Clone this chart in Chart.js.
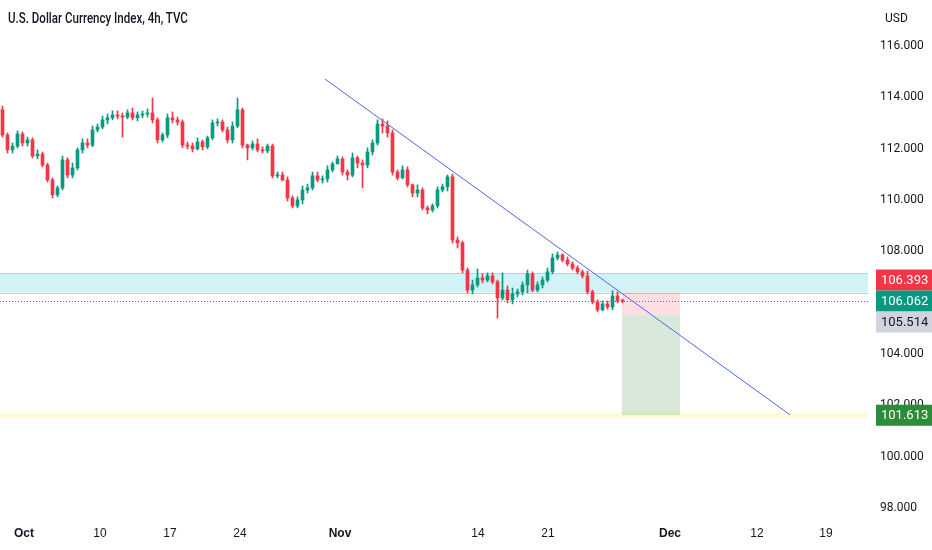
<!DOCTYPE html>
<html>
<head>
<meta charset="utf-8">
<script src="https://cdn.jsdelivr.net/npm/chart.js@4.4.1/dist/chart.umd.min.js"></script>
<style>
html,body{margin:0;padding:0;background:#fff;}
#wrap{position:relative;width:932px;height:550px;}
#title{position:absolute;left:8px;top:9px;font:500 15px Roboto,sans-serif;color:#131722;white-space:nowrap;transform-origin:0 0;}
#cur{position:absolute;left:885px;top:11px;font:12px Roboto,sans-serif;color:#131722;}
</style>
</head>
<body>
<div id="wrap">
<canvas id="chart" width="932" height="550"></canvas>
<div id="title">U.S. Dollar Currency Index, 4h, TVC</div>
<div id="cur">USD</div>
</div>
<script>
// candles (one candle per ~8h)
const opens = [
113.51,112.53,111.95,112.10,112.57,112.22,112.34,111.71,111.79,111.36,
110.78,110.20,110.47,111.56,110.97,111.25,111.95,112.22,112.14,112.73,
112.84,113.12,113.20,113.31,113.27,113.23,113.39,113.20,113.31,113.35,
113.39,113.12,112.34,112.53,113.20,113.12,113.04,112.14,112.10,111.99,
112.26,112.07,112.42,113.00,113.04,112.73,112.34,112.88,113.51,112.14,
112.03,112.18,111.95,111.91,112.10,110.94,110.97,110.78,110.08,109.77,
110.00,110.39,110.47,110.94,110.78,110.82,111.17,111.40,111.60,111.09,
110.97,111.64,111.44,111.36,111.87,112.22,112.96,112.88,112.61,111.09,
110.86,111.17,110.59,110.27,110.39,109.69,109.61,109.77,110.39,110.51,
110.90,108.44,108.33,107.27,106.49,106.69,106.96,106.88,107.04,106.81,
106.18,106.49,106.11,106.34,106.42,106.69,107.12,106.49,106.69,106.88,
107.20,107.74,107.86,107.66,107.51,107.35,107.20,107.04,106.42,106.03,
105.72,105.95,105.83,106.26,106.07
];
const highs = [
113.66,112.61,112.22,112.69,112.65,112.45,112.42,111.95,111.87,111.44,
110.86,110.55,111.71,111.64,111.44,112.03,112.38,112.38,112.88,112.96,
113.27,113.35,113.47,113.47,113.39,113.51,113.58,113.43,113.47,113.55,
113.97,113.20,112.61,113.35,113.43,113.23,113.12,112.26,112.22,112.42,
112.34,112.49,113.12,113.16,113.12,112.84,113.04,113.97,113.58,112.18,
112.30,112.38,112.07,112.18,112.18,111.09,111.09,110.90,110.16,110.12,
110.55,110.62,111.09,111.09,110.94,111.33,111.48,111.71,111.68,111.17,
111.83,111.71,111.56,112.03,112.34,113.12,113.16,113.08,112.73,111.17,
111.33,111.29,110.62,110.59,110.47,109.77,109.85,110.51,110.62,110.97,
111.01,108.56,108.40,107.35,106.88,107.31,107.12,107.16,107.16,106.88,
107.16,106.65,106.57,106.53,106.81,107.27,107.20,106.81,107.00,107.35,
107.90,107.97,107.90,107.78,107.59,107.43,107.27,107.23,106.49,106.11,
106.07,106.07,106.46,106.42,106.14
];
const lows = [
112.45,111.83,111.83,112.03,112.10,112.10,111.64,111.60,111.29,110.70,
110.08,110.12,110.39,110.86,110.86,111.17,111.83,112.03,112.07,112.65,
112.77,112.96,113.12,113.16,112.45,113.16,113.12,113.08,113.20,113.23,
113.00,112.22,112.26,112.42,113.00,112.92,112.03,111.99,111.87,111.95,
111.95,111.99,112.34,112.88,112.65,112.22,112.22,112.81,112.03,111.56,
111.95,111.87,111.83,111.83,110.86,110.86,110.74,109.96,109.69,109.69,
109.85,110.27,110.39,110.70,110.66,110.70,111.09,111.44,110.97,110.78,
110.90,111.25,110.47,111.25,111.75,112.14,112.61,112.45,110.97,110.78,
110.82,110.51,110.12,110.12,109.61,109.46,109.53,109.69,110.31,110.35,
108.33,108.13,107.16,106.38,106.34,106.61,106.77,106.81,106.73,105.40,
106.11,105.99,105.95,106.22,106.30,106.38,106.42,106.42,106.57,106.81,
107.12,107.66,107.59,107.43,107.27,107.12,106.96,106.34,105.95,105.64,
105.68,105.75,105.72,105.99,105.99
];
const closes = [
112.53,111.95,112.10,112.57,112.22,112.34,111.71,111.79,111.36,110.78,
110.20,110.47,111.56,110.97,111.25,111.95,112.22,112.14,112.73,112.84,
113.12,113.20,113.31,113.27,113.23,113.39,113.20,113.31,113.35,113.39,
113.12,112.34,112.53,113.20,113.12,113.04,112.14,112.10,111.99,112.26,
112.07,112.42,113.00,113.04,112.73,112.34,112.88,113.51,112.14,112.03,
112.18,111.95,111.91,112.10,110.94,110.97,110.78,110.08,109.77,110.00,
110.39,110.47,110.94,110.78,110.82,111.17,111.40,111.60,111.09,110.97,
111.64,111.44,111.36,111.87,112.22,112.96,112.88,112.61,111.09,110.86,
111.17,110.59,110.27,110.39,109.69,109.61,109.77,110.39,110.51,110.90,
108.44,108.33,107.27,106.49,106.69,106.96,106.88,107.04,106.81,106.18,
106.49,106.11,106.34,106.42,106.69,107.12,106.49,106.69,106.88,107.20,
107.74,107.86,107.66,107.51,107.35,107.20,107.04,106.42,106.03,105.72,
105.95,105.83,106.26,106.07,106.062
];

const xTickPos = [4.3, 19.5, 33.5, 47.5, 67.5, 95.1, 109.1, 133.5, 150.9, 164.7];
const xTickLabels = ["Oct", "10", "17", "24", "Nov", "14", "21", "Dec", "12", "19"];
const monthLabels = ["Oct", "Nov", "Dec"];
const yTicks = [98, 100, 102, 104, 106, 108, 110, 112, 114, 116];

// drawings
const zoneHigh = 107.14;
const zoneLow = 106.393;
const lastPrice = 106.062;
const stopPrice = 106.393;
const entryPrice = 105.514;
const targetPrice = 101.613;
const targetBand = [101.50, 101.72];
const positionX = [123.9, 135.5];
const trendX = [64.5, 157.5];
const trendY = [114.71, 101.63];

const upColor = "#089981";
const downColor = "#f23645";
const labelFont = "'Liberation Sans', Arial, sans-serif";

// squeeze the title to the narrow look of the original
const title = document.getElementById("title");
title.style.transform = "scaleX(" + (180 / title.offsetWidth) + ")";

const candleColor = ctx =>
    closes[ctx.dataIndex] >= opens[ctx.dataIndex] ? upColor : downColor;

const drawingsPlugin = {
    id: "drawings",
    beforeDatasetsDraw(chart) {
        const {ctx, chartArea: a, scales: {x, y}} = chart;
        ctx.save();

        // blue zone
        let t = y.getPixelForValue(zoneHigh);
        let b = y.getPixelForValue(zoneLow);
        ctx.fillStyle = "rgba(178,235,242,0.6)";
        ctx.fillRect(a.left, t, a.right - a.left, b - t);
        ctx.strokeStyle = "#a8d8f0";
        ctx.lineWidth = 1;
        ctx.beginPath();
        ctx.moveTo(a.left, Math.round(t) + 0.5);
        ctx.lineTo(a.right, Math.round(t) + 0.5);
        ctx.moveTo(a.left, Math.round(b) + 0.5);
        ctx.lineTo(a.right, Math.round(b) + 0.5);
        ctx.stroke();

        // yellow target band
        t = y.getPixelForValue(targetBand[1]);
        b = y.getPixelForValue(targetBand[0]);
        ctx.fillStyle = "rgba(255,238,88,0.22)";
        ctx.fillRect(a.left, t, a.right - a.left, b - t);

        // position box
        const x0 = x.getPixelForValue(positionX[0]);
        const x1 = x.getPixelForValue(positionX[1]);
        const yStop = y.getPixelForValue(stopPrice);
        const yEntry = y.getPixelForValue(entryPrice);
        const yTarget = y.getPixelForValue(targetPrice);
        ctx.fillStyle = "rgba(242,54,69,0.16)";
        ctx.fillRect(x0, yStop, x1 - x0, yEntry - yStop);
        ctx.fillStyle = "rgba(76,155,80,0.22)";
        ctx.fillRect(x0, yEntry, x1 - x0, yTarget - yEntry);

        // last price dotted line
        const yl = Math.round(y.getPixelForValue(lastPrice)) + 0.5;
        ctx.strokeStyle = upColor;
        ctx.setLineDash([1, 2]);
        ctx.beginPath();
        ctx.moveTo(a.left, yl);
        ctx.lineTo(a.right, yl);
        ctx.stroke();
        ctx.restore();
    },
    afterDraw(chart) {
        const {ctx, chartArea: a, scales: {y}} = chart;
        const yl = y.getPixelForValue(lastPrice);
        const h = 21;
        const boxes = [
            {v: stopPrice, c: yl - h, bg: downColor, fg: "#fff"},
            {v: lastPrice, c: yl, bg: upColor, fg: "#fff"},
            {v: entryPrice, c: yl + h, bg: "#d1d4dc", fg: "#131722"},
            {v: targetPrice, c: y.getPixelForValue(targetPrice), bg: "#2e8b3a", fg: "#fff"}
        ];
        ctx.save();
        ctx.font = "13px Roboto, sans-serif";
        ctx.textBaseline = "middle";
        boxes.forEach(bx => {
            ctx.fillStyle = bx.bg;
            ctx.fillRect(a.right + 8, bx.c - h / 2, 64, h);
            ctx.fillStyle = bx.fg;
            ctx.fillText(bx.v.toFixed(3), a.right + 13, bx.c + 1);
        });
        ctx.restore();
    }
};

new Chart(document.getElementById("chart"), {
    type: "bar",
    data: {
        datasets: [
            {
                type: "line",
                data: trendX.map((v, i) => ({x: v, y: trendY[i]})),
                borderColor: "#4a67ee",
                borderWidth: 1,
                pointRadius: 0
            },
            {
                data: closes.map((c, i) => ({x: i, y: [opens[i], c]})),
                backgroundColor: candleColor,
                barThickness: 3,
                minBarLength: 1,
                grouped: false
            },
            {
                data: closes.map((c, i) => ({x: i, y: [lows[i], highs[i]]})),
                backgroundColor: candleColor,
                barThickness: 1,
                grouped: false
            }
        ]
    },
    options: {
        responsive: false,
        animation: false,
        layout: {padding: 0},
        plugins: {legend: {display: false}, tooltip: {enabled: false}},
        scales: {
            x: {
                type: "linear",
                min: -0.5,
                max: 173.1,
                offset: false,
                grid: {display: false, drawTicks: false},
                border: {display: false},
                afterBuildTicks: axis => {
                    axis.ticks = xTickPos.map(v => ({value: v}));
                },
                afterFit: axis => {
                    axis.height = 32;
                    axis.paddingLeft = 0;
                    axis.paddingRight = 0;
                },
                ticks: {
                    autoSkip: false,
                    maxRotation: 0,
                    padding: 8,
                    color: "#131722",
                    font: ctx => ({
                        family: labelFont,
                        size: 12,
                        weight: monthLabels.includes(xTickLabels[ctx.index]) ? "bold" : "normal"
                    }),
                    callback: (v, i) => xTickLabels[i]
                }
            },
            y: {
                position: "right",
                min: 97.61,
                max: 117.79,
                grid: {display: false, drawTicks: false},
                border: {display: false},
                afterBuildTicks: axis => {
                    axis.ticks = yTicks.map(v => ({value: v}));
                },
                afterFit: axis => {
                    axis.width = 64;
                    axis.paddingTop = 0;
                    axis.paddingBottom = 0;
                },
                ticks: {
                    padding: 12,
                    color: "#131722",
                    font: {family: "Roboto, sans-serif", size: 12},
                    callback: v => v.toFixed(3)
                }
            }
        }
    },
    plugins: [drawingsPlugin]
});
</script>
</body>
</html>
